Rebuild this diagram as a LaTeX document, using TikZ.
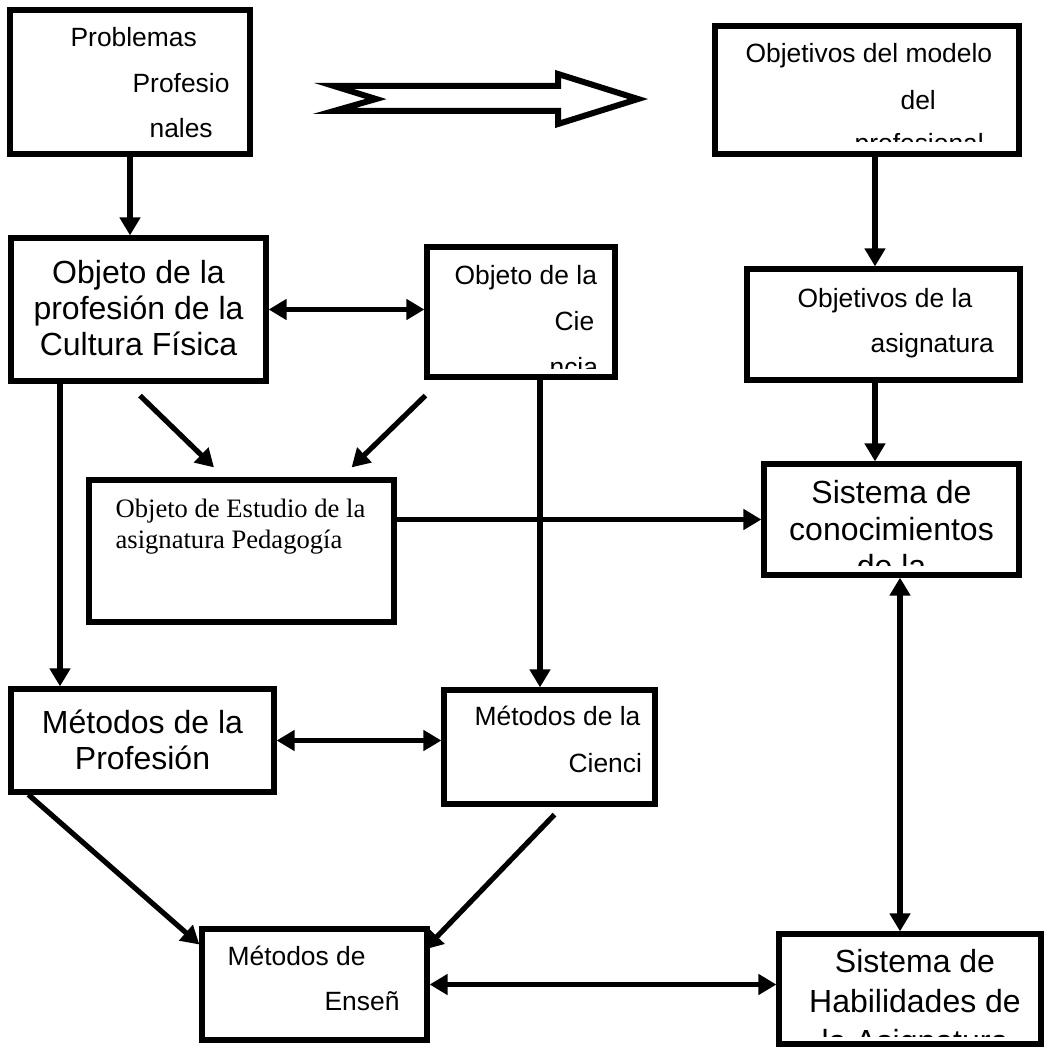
\documentclass[tikz,border=0pt]{standalone}
\usepackage{fontspec}
\setmainfont{Liberation Sans}
\newfontfamily\serifbox{Liberation Serif}
\usetikzlibrary{arrows.meta}

\begin{document}
\begin{tikzpicture}[x=0.5pt, y=-0.5pt, line width=2.6pt,
  >={Triangle[length=9pt,width=10pt]},
  box/.style={draw, rectangle, inner sep=0pt},
  sm/.style={inner sep=0pt, font=\fontsize{13.2}{16}\selectfont},
  lg/.style={inner sep=0pt, font=\fontsize{16}{19}\selectfont},
  rm/.style={inner sep=0pt, font=\serifbox\fontsize{13.3}{16}\selectfont}]

\useasboundingbox (0,0) rectangle (1048,1048);

\node[box, minimum width=120pt, minimum height=72pt] (prob) at (130,82) {};
\node[box, minimum width=152pt, minimum height=64pt] (mod) at (867,90) {};
\node[box, minimum width=127.5pt, minimum height=71.5pt] (prof) at (138.5,309.5) {};
\node[box, minimum width=94pt, minimum height=65pt] (cie) at (521,312) {};
\node[box, minimum width=136.5pt, minimum height=55.5pt] (oasig) at (883.5,324.5) {};
\node[box, minimum width=127.5pt, minimum height=55.5pt] (sist) at (891.5,519.5) {};
\node[box, minimum width=152.5pt, minimum height=71pt] (est) at (241.5,551) {};
\node[box, minimum width=131.5pt, minimum height=51.5pt] (mprof) at (142.5,740.5) {};
\node[box, minimum width=105.5pt, minimum height=57pt] (mcie) at (549.5,747) {};
\node[box, minimum width=112.5pt, minimum height=55.5pt] (ens) at (314.5,984.5) {};
\node[box, minimum width=131pt, minimum height=55pt] (hab) at (910,989) {};

\draw[line width=3pt] (334,86) -- (558,86) -- (558,74) -- (638,99) -- (558,124)
  -- (558,111) -- (334,111) -- (376,99) -- cycle;

\node[sm, anchor=base west] (prob1) at (68,47) {Problemas};
\node[sm, anchor=base west] (prob2) at (130,93) {Profesio};
\node[sm, anchor=base west] (prob3) at (147,138) {nales};

\node[sm, anchor=base west] (mod1) at (743,63) {Objetivos del modelo};
\node[sm, anchor=base west] (mod2) at (898,110) {del};
\begin{scope}
\clip (719,30) rectangle (1015,142);
\node[sm, anchor=base west] (mod3) at (852,153) {profesional};
\end{scope}

\node[lg, anchor=base] (prof1) at (138.5,283) {Objeto de la};
\node[lg, anchor=base] (prof2) at (138.5,319) {profesión de la};
\node[lg, anchor=base] (prof3) at (138.5,355) {Cultura Física};

\node[sm, anchor=base west] (cie1) at (452,284) {Objeto de la};
\node[sm, anchor=base west] (cie2) at (552,330) {Cie};
\begin{scope}
\clip (431,251) rectangle (611,368);
\node[sm, anchor=base west] (cie3) at (547,376) {ncia};
\end{scope}

\node[sm, anchor=base west] (oasig1) at (795,307) {Objetivos de la};
\node[sm, anchor=base west] (oasig2) at (868,352) {asignatura};

\node[lg, anchor=base] (sist1) at (891.5,503) {Sistema de};
\node[lg, anchor=base] (sist2) at (891.5,540) {conocimientos};
\begin{scope}
\clip (768,468) rectangle (1015,565);
\node[lg, anchor=base] (sist3) at (891.5,577) {de la};
\end{scope}

\node[rm, anchor=base west] (est1) at (113,517) {Objeto de Estudio de la};
\node[rm, anchor=base west] (est2) at (113,548) {asignatura Pedagogía};

\node[lg, anchor=base] (mprof1) at (142.5,733) {Métodos de la};
\node[lg, anchor=base] (mprof2) at (142.5,769) {Profesión};

\node[sm, anchor=base west] (mcie1) at (472,725) {Métodos de la};
\node[sm, anchor=base west] (mcie2) at (566,772) {Cienci};

\node[sm, anchor=base west] (ens1) at (225,965) {Métodos de};
\node[sm, anchor=base west] (ens2) at (322,1010) {Enseñ};

\node[lg, anchor=base] (hab1) at (915,972) {Sistema de};
\node[lg, anchor=base] (hab2) at (915,1012) {Habilidades de};
\begin{scope}
\clip (783,938) rectangle (1037,1036);
\node[lg, anchor=base] (hab3) at (915,1052) {la Asignatura};
\end{scope}

\coordinate (xa) at (875,0);
\coordinate (xb) at (60,0);
\coordinate (xc) at (540,0);
\coordinate (xd) at (900,0);

\draw[->] (prob.south) -- (prob.south |- prof.north);
\draw[->] (xa |- mod.south) -- (xa |- oasig.north);
\draw[->] (xa |- oasig.south) -- (xa |- sist.north);
\draw[<->] (prof.east) -- (prof.east -| cie.west);
\draw[->] ([shift={(1.5,12)}]prof.south) -- ([shift={(-27.5,-10)}]est.north);
\draw[->] ([shift={(1,16)}]cie.south west) -- ([shift={(-45,-10)}]est.north east);
\draw[->] (xb |- prof.south) -- (xb |- mprof.north);
\draw[->] (xc |- cie.south) -- (xc |- mcie.north);
\draw[->] (est.east |- sist.west) -- (sist.west);
\draw[<->] (mprof.east) -- (mprof.east -| mcie.west);
\draw[->] ([xshift=10pt]mprof.south west) -- ([yshift=20pt]ens.west);
\draw[->] ([shift={(5,8)}]mcie.south) -- ([shift={(-5,-35)}]ens.east);
\draw[<->] (ens.east) -- (ens.east -| hab.west);
\draw[<->] (xd |- sist.south) -- (xd |- hab.north);

\end{tikzpicture}
\end{document}
